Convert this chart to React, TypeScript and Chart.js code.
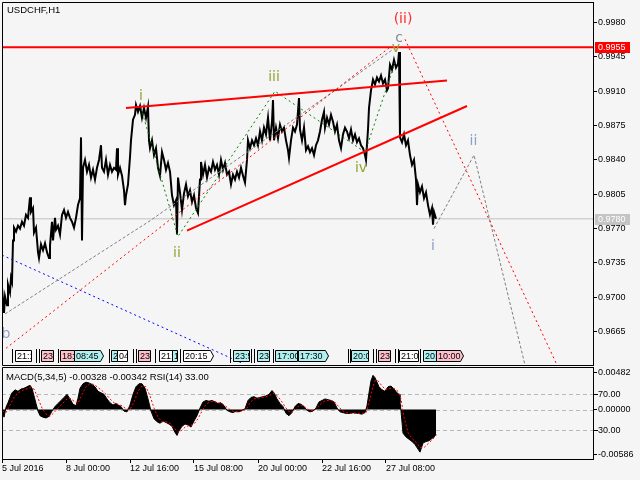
import React, { useEffect, useRef } from "react";
import { Chart, registerables } from "chart.js";

Chart.register(...registerables);

const FAMILY = "'Liberation Sans', Arial, sans-serif";
const WAVE_FAMILY = "'DejaVu Sans', sans-serif";
Chart.defaults.font.family = FAMILY;

// ---------------- data ----------------
const symbolTitle = "USDCHF,H1";
const visibleBars = 591; // bars that fit in the window (1 px per H1 bar)

const dateTickBars = [0, 64, 128, 192, 256, 320, 384];
const dateTickLabels = ["5 Jul 2016", "8 Jul 00:00", "12 Jul 16:00", "15 Jul 08:00", "20 Jul 00:00", "22 Jul 16:00", "27 Jul 08:00"];

const priceTicks = [0.9665, 0.97, 0.9735, 0.977, 0.9805, 0.984, 0.9875, 0.991, 0.9945, 0.998];
const priceMin = 0.9631;
const priceMax = 1.0001;

const macdTicks = [-0.00586, 0, 0.00482];
const macdMin = -0.0065;
const macdMax = 0.0056;
const rsiLevels = [70, 30];

const resistanceLevel = 0.9955;
const bidLevel = 0.978;

// [bar, close]
const pricePath: [number, number][] = [
  [0, 0.971], [1, 0.9697], [2, 0.9684], [3, 0.9701], [5, 0.9692], [6, 0.9713], [8, 0.9705], [9, 0.972], [10, 0.9716], [11, 0.9758],
  [12, 0.9771], [14, 0.9767], [16, 0.9773], [18, 0.977], [20, 0.9777], [22, 0.9773], [24, 0.9784], [26, 0.9781], [28, 0.9802], [29, 0.9787],
  [31, 0.9791], [32, 0.9766], [34, 0.9771], [36, 0.9746], [37, 0.974], [39, 0.9754], [41, 0.9748], [43, 0.9755], [45, 0.9746], [47, 0.974],
  [48, 0.9753], [50, 0.9777], [51, 0.9758], [53, 0.9781], [54, 0.9769], [56, 0.9773], [58, 0.9764], [60, 0.9784], [62, 0.9789], [64, 0.9781],
  [66, 0.9787], [68, 0.9781], [70, 0.9777], [72, 0.9771], [74, 0.9781], [76, 0.9794], [78, 0.9801], [79, 0.9863], [80, 0.9758], [81, 0.9832],
  [83, 0.984], [85, 0.9828], [87, 0.9835], [89, 0.9822], [91, 0.983], [93, 0.982], [95, 0.9832], [97, 0.984], [99, 0.9855], [100, 0.9832],
  [102, 0.9828], [104, 0.984], [106, 0.9825], [108, 0.9835], [110, 0.9828], [112, 0.9832], [114, 0.983], [115, 0.9852], [116, 0.9825], [118, 0.9832],
  [120, 0.9824], [122, 0.9809], [123, 0.9794], [124, 0.9804], [126, 0.9815], [128, 0.9843], [129, 0.986], [131, 0.9881], [133, 0.9886], [134, 0.9896],
  [136, 0.9889], [138, 0.9895], [140, 0.9883], [142, 0.9893], [144, 0.9883], [146, 0.9894], [147, 0.986], [148, 0.9852], [150, 0.986], [152, 0.9845],
  [154, 0.9852], [156, 0.9832], [158, 0.9824], [160, 0.9848], [162, 0.984], [164, 0.983], [166, 0.9837], [168, 0.9828], [170, 0.9804], [172, 0.9794],
  [174, 0.9799], [175, 0.9764], [176, 0.9822], [178, 0.9807], [180, 0.9789], [182, 0.9806], [184, 0.9815], [186, 0.9803], [188, 0.9809], [190, 0.9797],
  [192, 0.9804], [194, 0.9791], [196, 0.9786], [198, 0.982], [199, 0.9838], [201, 0.9825], [203, 0.9835], [205, 0.9822], [207, 0.9832], [209, 0.9828],
  [211, 0.9838], [213, 0.983], [215, 0.9835], [217, 0.9825], [219, 0.984], [221, 0.983], [223, 0.9837], [225, 0.9825], [227, 0.9828], [229, 0.9815],
  [231, 0.9825], [233, 0.982], [235, 0.9828], [237, 0.9822], [239, 0.9832], [241, 0.9824], [243, 0.9817], [245, 0.984], [246, 0.986], [248, 0.9852],
  [250, 0.986], [252, 0.9855], [254, 0.9862], [256, 0.9855], [258, 0.9869], [260, 0.986], [262, 0.9873], [264, 0.9866], [266, 0.9883], [268, 0.986],
  [270, 0.9879], [271, 0.9901], [272, 0.986], [274, 0.9873], [276, 0.9862], [278, 0.9876], [280, 0.9869], [282, 0.9873], [284, 0.986], [286, 0.985],
  [287, 0.9842], [289, 0.986], [291, 0.9873], [293, 0.9869], [295, 0.9876], [297, 0.9903], [298, 0.9871], [300, 0.986], [302, 0.9873], [304, 0.985],
  [306, 0.9854], [308, 0.9848], [310, 0.9852], [312, 0.9845], [314, 0.9855], [316, 0.986], [318, 0.9869], [320, 0.9881], [322, 0.9889], [323, 0.9873],
  [325, 0.9883], [327, 0.9876], [329, 0.9886], [331, 0.9879], [333, 0.9869], [335, 0.9876], [337, 0.986], [339, 0.9852], [341, 0.9866], [343, 0.9873],
  [345, 0.9869], [347, 0.9862], [349, 0.9871], [351, 0.986], [353, 0.9866], [355, 0.9858], [357, 0.9862], [359, 0.9855], [361, 0.9852], [363, 0.9845],
  [364, 0.984], [366, 0.9871], [367, 0.9893], [369, 0.9911], [371, 0.9922], [373, 0.9917], [375, 0.9924], [377, 0.992], [379, 0.9926], [381, 0.9918],
  [383, 0.9922], [385, 0.9911], [386, 0.9913], [388, 0.9937], [390, 0.9932], [392, 0.9942], [394, 0.9934], [396, 0.9938], [397, 0.995], [398, 0.9863],
  [400, 0.9858], [402, 0.9866], [404, 0.9855], [406, 0.986], [408, 0.9845], [410, 0.9835], [412, 0.984], [414, 0.982], [415, 0.9794], [416, 0.9815],
  [418, 0.9807], [420, 0.9813], [422, 0.9801], [424, 0.9807], [426, 0.9794], [428, 0.9784], [430, 0.9791], [431, 0.9774], [432, 0.9787], [434, 0.978],
];

// [bar, MACD(5,34,5) main]
const macdMain: [number, number][] = [
  [0, -0.0004], [2, -0.001], [4, 0.0003], [6, 0.0009], [8, 0.0016], [10, 0.0022], [13, 0.0026], [16, 0.0024], [19, 0.0027], [22, 0.0028],
  [25, 0.003], [28, 0.0032], [30, 0.0028], [32, 0.0018], [34, 0.0008], [36, -0.0002], [38, -0.0008], [41, -0.001], [44, -0.0011], [47, -0.0009],
  [50, -0.0002], [53, 0.0004], [56, 0.0008], [59, 0.0012], [62, 0.0016], [65, 0.002], [68, 0.0014], [71, 0.0007], [74, 0.0005], [76, 0.0015],
  [78, 0.0028], [81, 0.0034], [84, 0.0036], [87, 0.0035], [90, 0.0033], [93, 0.003], [96, 0.0024], [99, 0.0022], [102, 0.002], [105, 0.0014],
  [108, 0.0009], [111, 0.0006], [114, 0.0008], [116, 0.0006], [119, 0.0004], [122, -0.0002], [125, -0.0003], [128, 0.0006], [131, 0.002], [134, 0.003],
  [137, 0.0034], [140, 0.0034], [143, 0.0028], [146, 0.0014], [149, -0.0002], [152, -0.0012], [155, -0.0016], [158, -0.0018], [161, -0.0015], [164, -0.0017],
  [167, -0.0019], [170, -0.0022], [173, -0.003], [175, -0.0034], [177, -0.0028], [180, -0.0022], [183, -0.0019], [186, -0.002], [189, -0.0023], [192, -0.0015],
  [195, -0.0008], [198, 0.0002], [201, 0.001], [204, 0.0012], [207, 0.0011], [210, 0.0012], [213, 0.001], [216, 0.0008], [219, 0.0009], [222, 0.0005],
  [225, -0.0001], [228, -0.0003], [231, -0.0004], [234, -0.0002], [237, -0.0003], [240, -0.0001], [243, 0.0001], [246, 0.0012], [249, 0.0016], [252, 0.0017],
  [255, 0.0015], [258, 0.0016], [261, 0.0017], [264, 0.0018], [267, 0.002], [270, 0.0025], [272, 0.0022], [275, 0.0014], [278, 0.0008], [281, 0.0004],
  [284, -0.0005], [287, -0.0008], [290, -0.0004], [293, 0.0004], [296, 0.0008], [299, 0.0007], [302, 0.0004], [305, -0.0001], [308, -0.0003], [311, -0.0002],
  [314, 0.0002], [317, 0.001], [320, 0.0012], [323, 0.0014], [326, 0.0013], [329, 0.0012], [332, 0.001], [335, 0.0002], [338, -0.0003], [341, -0.0004],
  [344, -0.0005], [348, -0.0005], [352, -0.0004], [356, -0.0005], [360, -0.0006], [363, -0.0004], [365, 0.0005], [367, 0.0022], [369, 0.0038], [371, 0.0045],
  [373, 0.0042], [375, 0.0036], [377, 0.003], [380, 0.0026], [383, 0.0024], [386, 0.003], [389, 0.0031], [392, 0.0027], [395, 0.0022], [397, 0.002],
  [398, 0.001], [399, -0.0002], [401, -0.0031], [404, -0.0036], [407, -0.0039], [410, -0.0042], [413, -0.0046], [416, -0.0052], [418, -0.0056], [421, -0.0044],
  [424, -0.0042], [427, -0.0041], [430, -0.0038], [432, -0.0036], [434, -0.00328],
];

// [bar, MACD signal]
const macdSignal: [number, number][] = [
  [0, -0.0002], [4, -0.0004], [8, 0.0006], [12, 0.0016], [16, 0.0022], [20, 0.0025], [24, 0.0027], [28, 0.0029], [32, 0.0027], [36, 0.0015],
  [40, 0.0002], [44, -0.0006], [48, -0.0009], [52, -0.0004], [56, 0.0002], [60, 0.0007], [64, 0.0013], [68, 0.0015], [72, 0.0011], [76, 0.0008],
  [80, 0.002], [84, 0.003], [88, 0.0034], [92, 0.0033], [96, 0.0029], [100, 0.0025], [104, 0.002], [108, 0.0014], [112, 0.0009], [116, 0.0007],
  [120, 0.0005], [124, 0.0001], [128, 0.0], [132, 0.001], [136, 0.0024], [140, 0.0031], [144, 0.003], [148, 0.0018], [152, 0.0002], [156, -0.001],
  [160, -0.0016], [164, -0.0016], [168, -0.0018], [172, -0.0024], [176, -0.003], [180, -0.0027], [184, -0.0022], [188, -0.0021], [192, -0.0019], [196, -0.0012],
  [200, -0.0002], [204, 0.0007], [208, 0.001], [212, 0.0011], [216, 0.0009], [220, 0.0008], [224, 0.0004], [228, 0.0], [232, -0.0003], [236, -0.0003],
  [240, -0.0002], [244, 0.0], [248, 0.0009], [252, 0.0014], [256, 0.0015], [260, 0.0016], [264, 0.0017], [268, 0.0019], [272, 0.0022], [276, 0.0017],
  [280, 0.001], [284, 0.0002], [288, -0.0004], [292, -0.0002], [296, 0.0004], [300, 0.0006], [304, 0.0002], [308, -0.0001], [312, -0.0002], [316, 0.0004],
  [320, 0.0009], [324, 0.0012], [328, 0.0012], [332, 0.0011], [336, 0.0005], [340, -0.0001], [344, -0.0004], [348, -0.0005], [354, -0.0005], [360, -0.0005],
  [364, -0.0004], [367, 0.0008], [370, 0.0026], [373, 0.0038], [376, 0.0038], [380, 0.0031], [384, 0.0026], [388, 0.0028], [392, 0.0028], [396, 0.0024],
  [399, 0.0014], [402, -0.001], [406, -0.003], [410, -0.0038], [414, -0.0043], [418, -0.005], [422, -0.005], [426, -0.0045], [430, -0.004], [434, -0.00342],
];

// [bar, RSI(14)]
const rsiPath: [number, number][] = [
  [0, 34], [1, 50], [2, 55], [4, 48], [6, 62], [8, 60], [10, 66], [12, 62], [14, 68], [16, 66], [18, 70], [20, 67], [22, 71], [24, 68], [26, 72],
  [28, 76], [30, 70], [32, 60], [34, 58], [36, 42], [38, 40], [40, 46], [42, 42], [44, 47], [46, 43], [48, 48], [50, 62], [52, 56], [54, 52], [56, 55],
  [58, 58], [60, 62], [62, 57], [64, 62], [66, 58], [68, 54], [70, 50], [72, 53], [74, 66], [76, 70], [78, 74], [80, 62], [82, 70], [84, 73], [86, 68],
  [88, 71], [90, 64], [92, 68], [94, 63], [96, 66], [98, 60], [100, 58], [102, 53], [104, 55], [106, 50], [108, 54], [110, 51], [112, 53], [114, 56], [116, 49],
  [118, 44], [120, 40], [122, 46], [124, 52], [126, 50], [128, 62], [130, 70], [132, 73], [134, 68], [136, 72], [138, 66], [140, 70], [142, 63], [144, 62], [146, 44],
  [148, 40], [150, 46], [152, 42], [154, 47], [156, 43], [158, 45], [160, 40], [162, 44], [164, 41], [166, 46], [168, 38], [170, 34], [172, 30], [174, 24], [176, 40],
  [178, 46], [180, 40], [182, 44], [184, 39], [186, 42], [188, 44], [190, 38], [192, 42], [194, 46], [196, 43], [198, 66], [200, 62], [202, 65], [204, 60], [206, 63],
  [208, 58], [210, 61], [212, 56], [214, 58], [216, 54], [218, 56], [220, 51], [222, 53], [224, 50], [226, 52], [228, 54], [230, 50], [232, 53], [234, 51], [236, 55],
  [238, 52], [240, 54], [242, 52], [244, 72], [246, 68], [248, 64], [250, 68], [252, 65], [254, 69], [256, 64], [258, 68], [260, 62], [262, 67], [264, 63], [266, 70],
  [268, 66], [270, 74], [272, 62], [274, 56], [276, 58], [278, 53], [280, 55], [282, 48], [284, 44], [286, 42], [288, 50], [290, 56], [292, 58], [294, 54], [296, 57],
  [298, 50], [300, 48], [302, 52], [304, 46], [306, 49], [308, 44], [310, 47], [312, 43], [314, 48], [316, 60], [318, 62], [320, 58], [322, 61], [324, 57], [326, 60],
  [328, 56], [330, 58], [332, 55], [334, 46], [336, 42], [338, 44], [340, 48], [342, 44], [344, 49], [346, 45], [348, 47], [350, 44], [352, 48], [354, 46], [356, 44],
  [358, 48], [360, 43], [362, 40], [364, 42], [366, 66], [368, 72], [370, 74], [372, 70], [374, 73], [376, 69], [378, 64], [380, 58], [382, 66], [384, 60], [386, 66],
  [388, 69], [390, 64], [392, 67], [394, 60], [396, 58], [398, 30], [400, 32], [402, 28], [404, 33], [406, 30], [408, 34], [410, 32], [412, 29], [414, 27], [416, 36],
  [418, 30], [420, 33], [422, 31], [424, 34], [426, 30], [428, 32], [430, 29], [432, 35], [434, 33],
];

// drawn objects, [bar, price]
const upperWedge: [number, number][] = [[124, 0.9893], [445, 0.9921]];
const lowerWedge: [number, number][] = [[185, 0.9768], [465, 0.9895]];
const grayChannel: [number, number][] = [[3, 0.9683], [148, 0.9778], [390, 0.9952]];
const redChannel: [number, number][] = [[4, 0.9648], [388, 0.9955]];
const redProjection: [number, number][] = [[403, 0.9963], [555, 0.9631]];
const grayProjection: [number, number][] = [[432, 0.977], [472, 0.9845], [523, 0.9631]];
const blueLine: [number, number][] = [[0, 0.9743], [240, 0.9633]];
const impulsePath: [number, number][] = [[139, 0.9893], [176, 0.9762], [273, 0.991], [363, 0.9848], [393, 0.9939]];

// wave labels
const waveTexts = ["i", "ii", "iii", "iv", "v", "c", "(ii)", "b", "i", "ii"];
const waveBars = [139, 175, 272, 359, 394, 397, 401, 4, 431, 471.5];
const wavePrices = [0.9901, 0.9741, 0.992, 0.9828, 0.995, 0.996, 0.998, 0.9659, 0.9748, 0.9855];
const waveDegree = ["minuette", "minuette", "minuette", "minuette", "minuette", "sub", "minor", "minute", "minute", "minute"];

// calendar events along the bottom of the price window
const eventBars = [13, 39, 58, 72, 109, 115, 136, 157, 170, 181, 231, 255, 273, 296, 349, 376, 397, 421, 434];
const eventSpans = [16, 12, 14, 26, 6, 10, 12, 13, 5, 27, 16, 12, 22, 27, 17, 12, 19, 13, 24];
const eventTimes = ["21:15", "23:30", "18:30", "08:45", "20:00", "04:00", "23:30", "21:30", "19:00", "20:15", "23:50", "23:50", "17:00", "17:30", "20:00", "23:00", "21:00", "20:00", "10:00"];
const eventImpact = ["low", "high", "high", "medium", "medium", "low", "high", "low", "medium", "low", "medium", "medium", "medium", "medium", "medium", "high", "low", "medium", "high"];
const eventUpcoming = [false, false, false, true, false, false, false, false, false, true, false, false, false, true, false, false, false, false, true];
const eventMarkerBars = [10, 34, 37, 56, 107, 131, 134, 153, 178, 228, 249, 252, 271, 346, 348, 371, 374, 393, 396, 418];

// ---------------- helpers ----------------
const pts = (arr: [number, number][]) => arr.map(([x, y]) => ({ x, y }));
const last = (arr: [number, number][]) => arr[arr.length - 1][1];

const impactColor: Record<string, string> = { low: "#ffffff", medium: "#b0f0f0", high: "#ffc0cb" };
const degreeColor: Record<string, string> = {
  minuette: "#97a435",
  sub: "#7f8890",
  minor: "#ff2a2a",
  minute: "#8ca0c4",
};

function objLine(data: [number, number][], color: string, width: number, dash: number[], order: number) {
  return {
    data: pts(data),
    borderColor: color,
    borderWidth: width,
    borderDash: dash,
    pointRadius: 0,
    fill: false,
    tension: 0,
    order,
  };
}

const BG = "#f5f5f5";

const mainOverlay = {
  id: "mainOverlay",
  afterDraw(chart: any) {
    const { ctx, chartArea, scales } = chart;
    const xs = scales.x;
    const ys = scales.y;
    ctx.save();

    // wave labels
    ctx.textAlign = "center";
    ctx.textBaseline = "alphabetic";
    ctx.font = `14px ${WAVE_FAMILY}`;
    waveTexts.forEach((t, i) => {
      ctx.fillStyle = degreeColor[waveDegree[i]];
      ctx.fillText(t, xs.getPixelForValue(waveBars[i]), ys.getPixelForValue(wavePrices[i]));
    });

    // event markers & boxes
    const rowTop = Math.round(chartArea.bottom) - 15;
    const rowH = 11;
    ctx.fillStyle = "#000";
    eventMarkerBars.forEach((b) => {
      const x = Math.round(xs.getPixelForValue(b));
      ctx.fillRect(x, rowTop - 1, 1, rowH + 3);
    });
    ctx.font = `9px ${FAMILY}`;
    ctx.textAlign = "left";
    ctx.textBaseline = "middle";
    ctx.lineWidth = 1;
    eventBars.forEach((b, i) => {
      const x0 = Math.round(xs.getPixelForValue(b));
      const x1 = Math.round(xs.getPixelForValue(b + eventSpans[i]));
      ctx.beginPath();
      ctx.moveTo(x0 + 0.5, rowTop + 0.5);
      ctx.lineTo(x1 + 0.5, rowTop + 0.5);
      if (eventUpcoming[i]) ctx.lineTo(x1 + 3.5, rowTop + 0.5 + rowH / 2);
      ctx.lineTo(x1 + 0.5, rowTop + rowH + 0.5);
      ctx.lineTo(x0 + 0.5, rowTop + rowH + 0.5);
      ctx.closePath();
      ctx.fillStyle = impactColor[eventImpact[i]];
      ctx.fill();
      ctx.strokeStyle = "#000";
      ctx.stroke();
      ctx.save();
      ctx.beginPath();
      ctx.rect(x0 + 1, rowTop + 1, x1 - x0 - 1 + (eventUpcoming[i] ? 2 : 0), rowH - 1);
      ctx.clip();
      ctx.fillStyle = "#000";
      ctx.fillText(eventTimes[i], x0 + 2, rowTop + rowH / 2 + 1);
      ctx.restore();
    });

    // frame
    ctx.strokeStyle = "#000";
    ctx.lineWidth = 1;
    ctx.beginPath();
    ctx.moveTo(chartArea.left + 0.5, chartArea.top + 0.5);
    ctx.lineTo(chartArea.right + 0.5, chartArea.top + 0.5);
    ctx.moveTo(chartArea.left + 0.5, chartArea.top + 0.5);
    ctx.lineTo(chartArea.left + 0.5, chartArea.bottom + 0.5);
    ctx.lineTo(chartArea.right + 0.5, chartArea.bottom + 0.5);
    ctx.stroke();

    // title
    ctx.fillStyle = "#000";
    ctx.font = `9.5px ${FAMILY}`;
    ctx.textAlign = "left";
    ctx.textBaseline = "alphabetic";
    ctx.fillText(symbolTitle, chartArea.left + 5, chartArea.top + 11);

    // price labels on axis
    const tags: [number, string][] = [
      [resistanceLevel, "#ff0000"],
      [bidLevel, "#c4c4c4"],
    ];
    ctx.font = `9px ${FAMILY}`;
    ctx.textBaseline = "middle";
    tags.forEach(([p, c]) => {
      const y = Math.round(ys.getPixelForValue(p));
      ctx.fillStyle = c;
      ctx.fillRect(chartArea.right + 2, y - 5, 35, 11);
      ctx.fillStyle = "#ffffff";
      ctx.fillText(p.toFixed(4), chartArea.right + 5, y + 0.5);
    });
    ctx.restore();
  },
};

const subOverlay = {
  id: "subOverlay",
  beforeDatasetsDraw(chart: any) {
    const { ctx, chartArea, scales } = chart;
    ctx.save();
    ctx.strokeStyle = "#b8b8b8";
    ctx.lineWidth = 1;
    ctx.setLineDash([4, 3]);
    const levels = [scales.rsi.getPixelForValue(rsiLevels[0]), scales.macd.getPixelForValue(0), scales.rsi.getPixelForValue(rsiLevels[1])];
    ctx.beginPath();
    levels.forEach((y: number) => {
      const yy = Math.round(y) + 0.5;
      ctx.moveTo(chartArea.left, yy);
      ctx.lineTo(chartArea.right, yy);
    });
    ctx.stroke();
    ctx.restore();
  },
  afterDraw(chart: any) {
    const { ctx, chartArea, scales } = chart;
    ctx.save();
    ctx.strokeStyle = "#000";
    ctx.lineWidth = 1;
    ctx.beginPath();
    ctx.moveTo(chartArea.left + 0.5, chartArea.bottom);
    ctx.lineTo(chartArea.left + 0.5, chartArea.top + 0.5);
    ctx.lineTo(chartArea.right + 0.5, chartArea.top + 0.5);
    ctx.stroke();

    // RSI level labels on the right
    ctx.font = `9px ${FAMILY}`;
    ctx.fillStyle = "#000";
    ctx.textAlign = "left";
    ctx.textBaseline = "middle";
    rsiLevels.forEach((lv) => {
      const y = Math.round(scales.rsi.getPixelForValue(lv));
      ctx.fillRect(chartArea.right, y, 5, 1);
      ctx.fillText(lv.toFixed(2), chartArea.right + 5, y + 0.5);
    });

    // title
    ctx.font = `9.5px ${FAMILY}`;
    ctx.textBaseline = "alphabetic";
    const title = `MACD(5,34,5) ${last(macdMain).toFixed(5)} ${last(macdSignal).toFixed(5)} RSI(14) ${last(rsiPath).toFixed(2)}`;
    ctx.fillText(title, chartArea.left + 4, chartArea.top + 13);
    ctx.restore();
  },
};

const yAxisCommon = {
  position: "right" as const,
  afterFit: (s: any) => {
    s.width = 47;
    s.paddingTop = 0;
    s.paddingBottom = 0;
  },
  grid: { drawOnChartArea: false, drawTicks: true, tickLength: 4, color: "#000", lineWidth: 1 },
  border: { display: true, color: "#000", width: 1 },
};

export default function App() {
  const mainRef = useRef<HTMLCanvasElement>(null);
  const subRef = useRef<HTMLCanvasElement>(null);

  useEffect(() => {
    const main = new Chart(mainRef.current!, {
      type: "line",
      data: {
        datasets: [
          objLine([[0, resistanceLevel], [visibleBars, resistanceLevel]], "#ff0000", 2, [], 0) as any,
          objLine(upperWedge, "#ff0000", 2, [], 0),
          objLine(lowerWedge, "#ff0000", 2, [], 0),
          objLine(redChannel, "#ff0000", 1, [2, 3], 1),
          objLine(redProjection, "#ff0000", 1, [2, 3], 1),
          objLine(grayChannel, "#808080", 1, [3, 2], 1),
          objLine(grayProjection, "#808080", 1, [3, 2], 1),
          objLine(blueLine, "#0000ff", 1, [2, 3], 1),
          objLine(impulsePath, "#008000", 1, [2, 3], 1),
          { data: pts(pricePath), borderColor: "#000", borderWidth: 2, pointRadius: 0, tension: 0, fill: false, order: 5 },
          objLine([[0, bidLevel], [visibleBars, bidLevel]], "#c0c0c0", 1, [], 6),
        ],
      },
      options: {
        responsive: false,
        animation: false,
        devicePixelRatio: 1,
        events: [],
        layout: { padding: { left: 2, top: 2, right: 0, bottom: 1 } },
        plugins: { legend: { display: false }, tooltip: { enabled: false } },
        scales: {
          x: { type: "linear", min: 0, max: visibleBars, display: false },
          y: {
            ...yAxisCommon,
            type: "linear",
            min: priceMin,
            max: priceMax,
            afterBuildTicks: (s: any) => {
              s.ticks = priceTicks.map((v) => ({ value: v }));
            },
            ticks: {
              color: "#000",
              font: { family: FAMILY, size: 9 },
              padding: 1,
              autoSkip: false,
              callback: (v: any) => Number(v).toFixed(4),
            },
          },
        },
      },
      plugins: [mainOverlay],
    });

    const sub = new Chart(subRef.current!, {
      type: "line",
      data: {
        datasets: [
          { data: pts(rsiPath), yAxisID: "rsi", borderColor: "#1e90ff", borderWidth: 2, pointRadius: 0, tension: 0, fill: false, order: 0 },
          { data: pts(macdSignal), yAxisID: "macd", borderColor: "#ff0000", borderWidth: 1, borderDash: [2, 2], pointRadius: 0, tension: 0, fill: false, order: 1 },
          { data: pts(macdMain), yAxisID: "macd", borderColor: "#000", backgroundColor: "#000", borderWidth: 1, pointRadius: 0, tension: 0, fill: "origin", order: 2 },
        ],
      },
      options: {
        responsive: false,
        animation: false,
        devicePixelRatio: 1,
        events: [],
        layout: { padding: { left: 2, top: 1, right: 0, bottom: 0 } },
        plugins: { legend: { display: false }, tooltip: { enabled: false } },
        scales: {
          x: {
            type: "linear",
            min: 0,
            max: visibleBars,
            position: "bottom",
            afterFit: (s: any) => {
              s.height = 21;
              s.paddingLeft = 0;
              s.paddingRight = 0;
            },
            afterBuildTicks: (s: any) => {
              s.ticks = dateTickBars.map((v) => ({ value: v }));
            },
            grid: { drawOnChartArea: false, drawTicks: true, tickLength: 4, color: "#000" },
            border: { display: true, color: "#000" },
            ticks: {
              color: "#000",
              font: { family: FAMILY, size: 9 },
              padding: 0,
              align: "start",
              maxRotation: 0,
              minRotation: 0,
              autoSkip: false,
              callback: (v: any) => {
                const i = dateTickBars.indexOf(Number(v));
                return i >= 0 ? dateTickLabels[i] : "";
              },
            },
          },
          macd: {
            ...yAxisCommon,
            type: "linear",
            min: macdMin,
            max: macdMax,
            afterBuildTicks: (s: any) => {
              s.ticks = macdTicks.map((v) => ({ value: v }));
            },
            ticks: {
              color: "#000",
              font: { family: FAMILY, size: 9 },
              padding: 1,
              autoSkip: false,
              callback: (v: any) => Number(v).toFixed(5),
            },
          },
          rsi: { type: "linear", min: 0, max: 100, display: false },
        },
      },
      plugins: [subOverlay],
    });

    return () => {
      main.destroy();
      sub.destroy();
    };
  }, []);

  return (
    <div style={{ position: "fixed", left: 0, top: 0, width: 640, height: 480, background: BG, overflow: "hidden" }}>
      <canvas ref={mainRef} width={640} height={366} style={{ position: "absolute", left: 0, top: 0, width: 640, height: 366 }} />
      <canvas ref={subRef} width={640} height={114} style={{ position: "absolute", left: 0, top: 366, width: 640, height: 114 }} />
    </div>
  );
}
